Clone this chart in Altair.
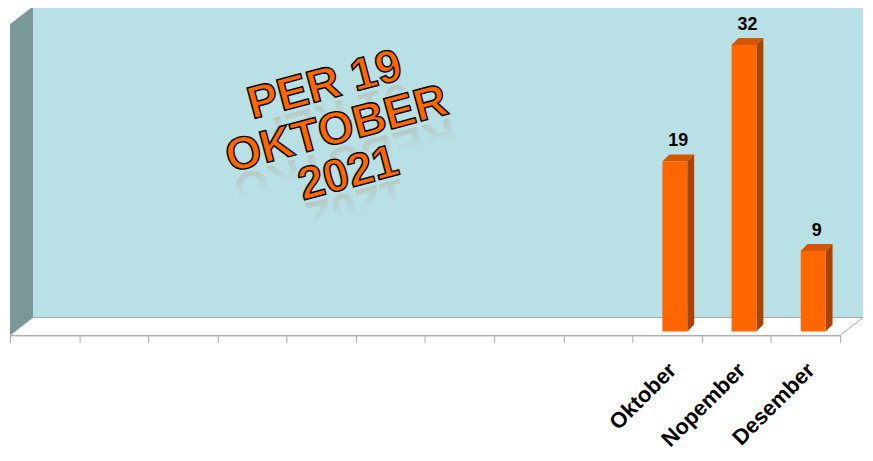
import json
import altair as alt
import pandas as pd

# ---------------- data ----------------
months = ["Januari", "Februari", "Maret", "April", "Mei", "Juni", "Juli",
          "Agustus", "September", "Oktober", "Nopember", "Desember"]
bar_months = ["Oktober", "Nopember", "Desember"]
bar_values = [19, 32, 9]
stamp_lines = ["PER 19", "OKTOBER", "2021"]

# ---------------- geometry / style constants ----------------
N = len(months)
Y_MIN, Y_MAX = -0.444, 36.0
WALL_DX, WALL_DY = 0.333, 2.0          # depth of the 3D box (data units)
BX0, BX1 = 0.43, 0.79                  # bar front face inside its slot
BAR_DX, BAR_DY = 0.10, 0.78            # depth of each bar
STAMP_X, STAMP_Y = 4.55, 27.5          # anchor of the first stamp line
STAMP_SIZE, STAMP_LH = 46, 46
STAMP_ANGLE = 345

WALL = "#B9E0E5"
SIDE = "#7B9899"
ORANGE = "#FF6600"
ORANGE_SIDE = "#A84300"
ORANGE_TOP = "#D65500"
GRID = "#A6A6A6"
FONT = "Liberation Sans"

xs = alt.Scale(domain=[0, N], nice=False, zero=False)
ys = alt.Scale(domain=[Y_MIN, Y_MAX], nice=False, zero=False)

# ---------------- tables built from the arrays ----------------
slot = [months.index(m) for m in bar_months]

back_df = pd.DataFrame({"x": [WALL_DX], "x2": [N + WALL_DX],
                        "y": [Y_MIN + WALL_DY], "y2": [Y_MAX + 0.33]})
side_df = pd.DataFrame({"x": [0, WALL_DX],
                        "lo": [Y_MIN, Y_MIN + WALL_DY],
                        "hi": [Y_MAX + 0.33 - WALL_DY, Y_MAX + 0.33]})
floor_df = pd.DataFrame({"y": [Y_MIN, Y_MIN + WALL_DY],
                         "x": [0, WALL_DX], "x2": [N, N + WALL_DX]})

front_df = pd.DataFrame({"bar": bar_months,
                         "x": [s + BX0 for s in slot],
                         "x2": [s + BX1 for s in slot],
                         "v": bar_values})
front_df["zero"] = 0

side_rows, cap_rows = [], []
for m, s, v in zip(bar_months, slot, bar_values):
    side_rows.append({"bar": m, "x": s + BX1, "lo": 0, "hi": v})
    side_rows.append({"bar": m, "x": s + BX1 + BAR_DX, "lo": BAR_DY, "hi": v + BAR_DY})
    cap_rows.append({"bar": m, "y": v, "x": s + BX0, "x2": s + BX1})
    cap_rows.append({"bar": m, "y": v + BAR_DY, "x": s + BX0 + BAR_DX, "x2": s + BX1 + BAR_DX})
bside_df = pd.DataFrame(side_rows)
cap_df = pd.DataFrame(cap_rows)

lab_df = pd.DataFrame({"x": [s + (BX0 + BX1) / 2 + BAR_DX / 2 for s in slot],
                       "y": [v + BAR_DY for v in bar_values],
                       "v": bar_values})

stamp_df = pd.DataFrame({"x": [STAMP_X], "y": [STAMP_Y], "t": [stamp_lines]})

axis_df = pd.DataFrame({"month": months})
axis_df["y"] = 0

# ---------------- layers ----------------
back = alt.Chart(back_df).mark_rect(fill=WALL).encode(
    x=alt.X("x:Q", scale=xs, axis=None), x2="x2",
    y=alt.Y("y:Q", scale=ys, axis=None), y2="y2")

side = alt.Chart(side_df).mark_area(fill=SIDE, opacity=1).encode(
    x=alt.X("x:Q", scale=xs, axis=None),
    y=alt.Y("lo:Q", scale=ys, axis=None), y2="hi")

floor = alt.Chart(floor_df).mark_area(orient="horizontal", fill="white",
                                      stroke=GRID, strokeWidth=1, opacity=1).encode(
    y=alt.Y("y:Q", scale=ys, axis=None),
    x=alt.X("x:Q", scale=xs, axis=None), x2="x2")

bar_side = alt.Chart(bside_df).mark_area(fill=ORANGE_SIDE, opacity=1).encode(
    x=alt.X("x:Q", scale=xs, axis=None),
    y=alt.Y("lo:Q", scale=ys, axis=None), y2="hi", detail="bar:N")

bar_cap = alt.Chart(cap_df).mark_area(orient="horizontal", fill=ORANGE_TOP, opacity=1).encode(
    y=alt.Y("y:Q", scale=ys, axis=None),
    x=alt.X("x:Q", scale=xs, axis=None), x2="x2", detail="bar:N")

bar_front = alt.Chart(front_df).mark_rect(fill=ORANGE).encode(
    x=alt.X("x:Q", scale=xs, axis=None), x2="x2",
    y=alt.Y("zero:Q", scale=ys, axis=None), y2="v")

labels = alt.Chart(lab_df).mark_text(font=FONT, fontSize=18, fontWeight="bold",
                                     color="black", baseline="bottom", dy=-4).encode(
    x=alt.X("x:Q", scale=xs, axis=None),
    y=alt.Y("y:Q", scale=ys, axis=None),
    text="v:Q")

# faded mirror reflections of the stamp lines (one per line)
fade = alt.LinearGradient(
    gradient="linear", x1=0, y1=1, x2=0, y2=0,
    stops=[alt.GradientStop(offset=0.0, color="rgba(170,110,70,0.32)"),
           alt.GradientStop(offset=0.45, color="rgba(170,150,140,0.12)"),
           alt.GradientStop(offset=0.75, color="rgba(185,224,229,0)")])
reflections = []
for i, line in enumerate(stamp_lines):
    refl_df = pd.DataFrame({"x": [STAMP_X], "y": [STAMP_Y], "t": [line[::-1]]})
    reflections.append(
        alt.Chart(refl_df).mark_text(font=FONT, fontSize=STAMP_SIZE, fontWeight="bold",
                                     fill=fade, angle=STAMP_ANGLE - 180,
                                     align="center", baseline="middle",
                                     dy=-(STAMP_LH * i + 0.70 * STAMP_SIZE)).encode(
            x=alt.X("x:Q", scale=xs, axis=None),
            y=alt.Y("y:Q", scale=ys, axis=None),
            text="t:N"))

stamp = alt.Chart(stamp_df).mark_text(font=FONT, fontSize=STAMP_SIZE, fontWeight="bold",
                                      fill=ORANGE, stroke="black", strokeWidth=1.4,
                                      angle=STAMP_ANGLE, align="center", baseline="middle",
                                      lineHeight=STAMP_LH).encode(
    x=alt.X("x:Q", scale=xs, axis=None),
    y=alt.Y("y:Q", scale=ys, axis=None),
    text="t")

geom = alt.layer(back, side, floor, *reflections, stamp, bar_side, bar_cap, bar_front, labels)

label_expr = "indexof(" + json.dumps(bar_months) + ", datum.value) >= 0 ? datum.value : ''"
axis_layer = alt.Chart(axis_df).mark_point(opacity=0).encode(
    x=alt.X("month:N", sort=months,
            scale=alt.Scale(type="band", domain=months, paddingInner=0, paddingOuter=0),
            axis=alt.Axis(orient="bottom", title=None, grid=False, tickBand="extent",
                          domain=True, domainColor=GRID, tickColor=GRID, tickSize=7,
                          labelAngle=-45, labelAlign="right", labelBaseline="middle",
                          labelFont=FONT, labelFontWeight="bold", labelFontSize=22,
                          labelColor="black", labelPadding=24, labelOffset=5,
                          labelExpr=label_expr)),
    y=alt.Y("y:Q", scale=ys, axis=None))

chart = alt.layer(geom, axis_layer).resolve_scale(x="independent").properties(
    width=835, height=328,
    autosize=alt.AutoSizeParams(type="none"),
    padding={"left": 2, "top": 0, "right": 25, "bottom": 115},
).configure_view(stroke=None)

chart.save("out.html", embed_options={"renderer": "svg", "actions": False})
